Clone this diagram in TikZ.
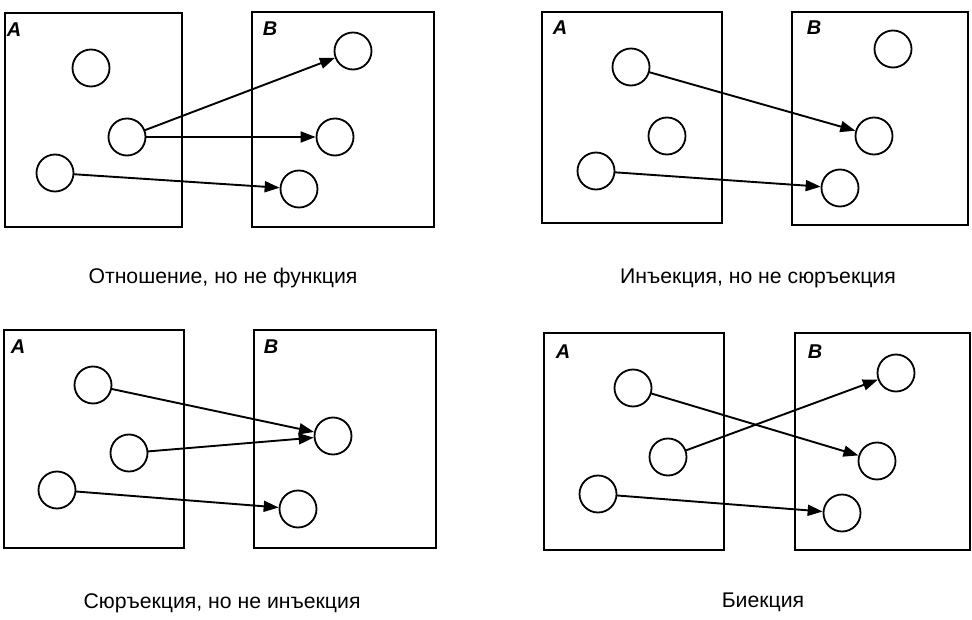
\documentclass[tikz,border=0pt]{standalone}
\usepackage{fontspec}
\setmainfont{Liberation Sans}
\usetikzlibrary{arrows.meta}
\tikzset{
  setbox/.style={draw, line width=2.3bp},
  elem/.style={circle, draw, line width=1.8bp, minimum size=37bp, inner sep=0pt},
  maparrow/.style={line width=1.9bp, -{Triangle[length=15bp,width=11bp]}, shorten <=-0.5bp},
  setlabel/.style={font=\fontsize{20}{20}\selectfont\bfseries\itshape, inner sep=0pt},
  caption/.style={font=\fontsize{21.3}{22}\selectfont, inner sep=0pt}
}
\begin{document}
\begin{tikzpicture}[x=1bp,y=-1bp]
\useasboundingbox (0,0) rectangle (972,620);

% ---------- Panel 1 ----------
\draw[setbox] (5,13) rectangle (182,227);
\draw[setbox] (252,12) rectangle (434,227);
\node[setlabel] (p1A) at (14,30) {A};
\node[setlabel] (p1B) at (270,29) {B};
\node[elem] (p1a1) at (91,68) {};
\node[elem] (p1a2) at (127,137) {};
\node[elem] (p1a3) at (55,173) {};
\node[elem] (p1b1) at (353,51) {};
\node[elem] (p1b2) at (335,137) {};
\node[elem] (p1b3) at (299,189) {};
\draw[maparrow] (p1a2) -- (p1b1);
\draw[maparrow] (p1a2) -- (p1b2);
\draw[maparrow] (p1a3) -- (p1b3);
\node[caption] (p1cap) at (223,278) {Отношение, но не функция};

% ---------- Panel 2 ----------
\draw[setbox] (542,12) rectangle (722,223);
\draw[setbox] (792,12) rectangle (968,225);
\node[setlabel] (p2A) at (560,28) {A};
\node[setlabel] (p2B) at (814,28) {B};
\node[elem] (p2a1) at (631,67) {};
\node[elem] (p2a2) at (667,136) {};
\node[elem] (p2a3) at (596,171) {};
\node[elem] (p2b1) at (893,49) {};
\node[elem] (p2b2) at (874,136) {};
\node[elem] (p2b3) at (840,188) {};
\draw[maparrow] (p2a1) -- (p2b2);
\draw[maparrow] (p2a3) -- (p2b3);
\node[caption] (p2cap) at (758,278) {Инъекция, но не сюръекция};

% ---------- Panel 3 ----------
\draw[setbox] (4,330) rectangle (184,548);
\draw[setbox] (254,330) rectangle (436,548);
\node[setlabel] (p3A) at (18,347) {A};
\node[setlabel] (p3B) at (271,347) {B};
\node[elem] (p3a1) at (93,385) {};
\node[elem] (p3a2) at (129,453) {};
\node[elem] (p3a3) at (57,490) {};
\node[elem] (p3b1) at (333,436) {};
\node[elem] (p3b2) at (298,509) {};
\draw[maparrow] (p3a1) -- (p3b1);
\draw[maparrow] (p3a2) -- (p3b1);
\draw[maparrow] (p3a3) -- (p3b2);
\node[caption] (p3cap) at (222,603) {Сюръекция, но не инъекция};

% ---------- Panel 4 ----------
\draw[setbox] (544,333) rectangle (724,550);
\draw[setbox] (795,333) rectangle (970,550);
\node[setlabel] (p4A) at (563,352) {A};
\node[setlabel] (p4B) at (815,352) {B};
\node[elem] (p4a1) at (633,388) {};
\node[elem] (p4a2) at (668,457) {};
\node[elem] (p4a3) at (598,494) {};
\node[elem] (p4b1) at (896,373) {};
\node[elem] (p4b2) at (877,461) {};
\node[elem] (p4b3) at (842,513) {};
\draw[maparrow] (p4a1) -- (p4b2);
\draw[maparrow] (p4a2) -- (p4b1);
\draw[maparrow] (p4a3) -- (p4b3);
\node[caption] (p4cap) at (763,602) {Биекция};
\end{tikzpicture}
\end{document}
